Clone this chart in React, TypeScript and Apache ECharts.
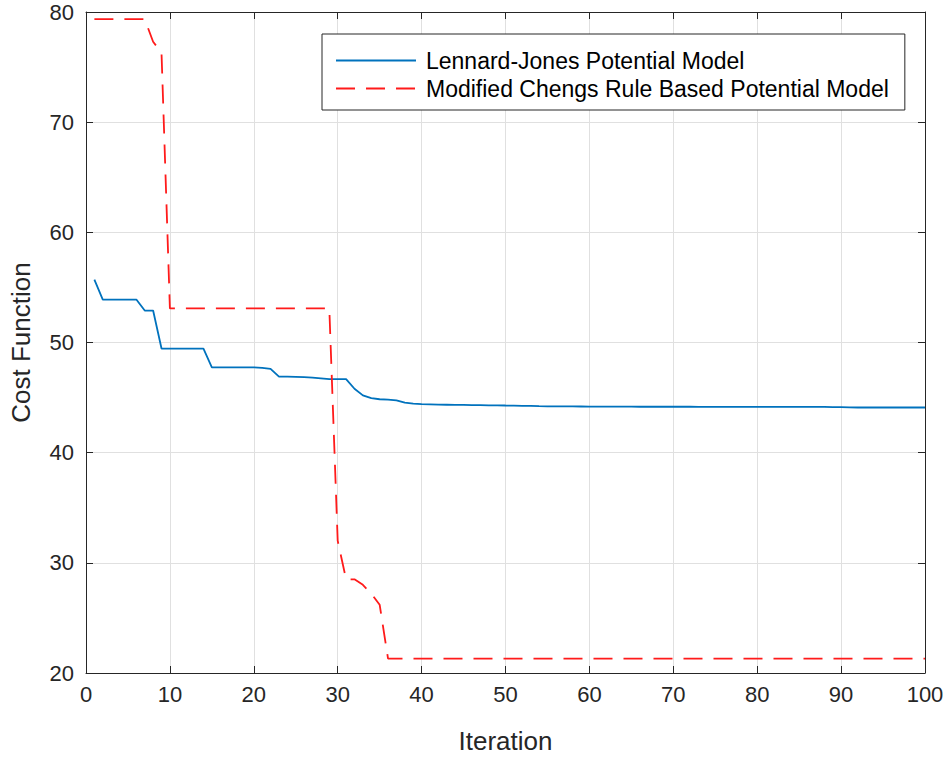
import React, { useEffect, useRef } from "react";
import * as echarts from "echarts";

const seriesNames = ["Lennard-Jones Potential Model", "Modified Chengs Rule Based Potential Model"];

// Cost per iteration (iterations 1..100)
const lennardJones = [
  55.7, 53.9, 53.9, 53.9, 53.9, 53.9, 52.9, 52.9, 49.45, 49.45,
  49.45, 49.45, 49.45, 49.45, 47.75, 47.75, 47.75, 47.75, 47.75, 47.75,
  47.7, 47.6, 46.9, 46.9, 46.88, 46.85, 46.82, 46.75, 46.68, 46.68,
  46.68, 45.8, 45.2, 44.95, 44.85, 44.82, 44.75, 44.55, 44.45, 44.4,
  44.38, 44.36, 44.35, 44.34, 44.33, 44.32, 44.31, 44.3, 44.3, 44.28,
  44.27, 44.25, 44.24, 44.22, 44.21, 44.2, 44.2, 44.2, 44.19, 44.18,
  44.18, 44.18, 44.18, 44.18, 44.18, 44.17, 44.17, 44.17, 44.17, 44.17,
  44.17, 44.17, 44.16, 44.16, 44.16, 44.16, 44.16, 44.16, 44.16, 44.16,
  44.16, 44.15, 44.15, 44.15, 44.15, 44.15, 44.15, 44.15, 44.14, 44.13,
  44.12, 44.1, 44.1, 44.1, 44.1, 44.1, 44.1, 44.1, 44.1, 44.1,
];

const chengs = [
  79.35, 79.35, 79.35, 79.35, 79.35, 79.35, 79.35, 77.3, 76.3, 53.1,
  53.1, 53.1, 53.1, 53.1, 53.1, 53.1, 53.1, 53.1, 53.1, 53.1,
  53.1, 53.1, 53.1, 53.1, 53.1, 53.1, 53.1, 53.1, 53.1, 32.0,
  28.5, 28.5, 28.0, 27.2, 26.2, 21.3, 21.3, 21.3, 21.3, 21.3,
  21.3, 21.3, 21.3, 21.3, 21.3, 21.3, 21.3, 21.3, 21.3, 21.3,
  21.3, 21.3, 21.3, 21.3, 21.3, 21.3, 21.3, 21.3, 21.3, 21.3,
  21.3, 21.3, 21.3, 21.3, 21.3, 21.3, 21.3, 21.3, 21.3, 21.3,
  21.3, 21.3, 21.3, 21.3, 21.3, 21.3, 21.3, 21.3, 21.3, 21.3,
  21.3, 21.3, 21.3, 21.3, 21.3, 21.3, 21.3, 21.3, 21.3, 21.3,
  21.3, 21.3, 21.3, 21.3, 21.3, 21.3, 21.3, 21.3, 21.3, 21.3,
];

const xRange = { min: 0, max: 100, interval: 10 };
const yRange = { min: 20, max: 80, interval: 10 };

const FONT = "'Liberation Sans', Arial, Helvetica, sans-serif";
const AXIS_COLOR = "#262626";

export default function App() {
  const ref = useRef<HTMLDivElement>(null);

  useEffect(() => {
    if (!ref.current) return;
    const chart = echarts.init(ref.current, null, { renderer: "svg" });

    const axisLine = { show: true, onZero: false, lineStyle: { color: AXIS_COLOR, width: 1 } };
    const axisTick = { show: true, inside: true, length: 7, lineStyle: { color: AXIS_COLOR, width: 1 } };
    const splitLine = { show: true, lineStyle: { color: "#e0e0e0", width: 1 } };

    chart.setOption({
      animation: false,
      backgroundColor: "#ffffff",
      grid: { left: 85, right: 22, top: 12, bottom: 88, containLabel: false },
      legend: {
        orient: "vertical",
        left: 322,
        top: 34,
        itemWidth: 80,
        itemHeight: 14,
        itemGap: 5,
        padding: [15, 16, 10, 13],
        borderColor: AXIS_COLOR,
        borderWidth: 1,
        backgroundColor: "#ffffff",
        itemStyle: { opacity: 0 },
        textStyle: { fontSize: 23, color: "#000000", fontFamily: FONT, padding: [0, 0, 0, 5] },
        data: seriesNames,
      },
      xAxis: [
        {
          type: "value",
          ...xRange,
          position: "bottom",
          name: "Iteration",
          nameLocation: "middle",
          nameGap: 55,
          nameTextStyle: { fontSize: 26, color: AXIS_COLOR, fontFamily: FONT },
          axisLine,
          axisTick,
          axisLabel: { fontSize: 22, color: AXIS_COLOR, fontFamily: FONT, margin: 10 },
          splitLine,
        },
        {
          type: "value",
          ...xRange,
          position: "top",
          axisLine,
          axisTick,
          axisLabel: { show: false },
          splitLine: { show: false },
        },
      ],
      yAxis: [
        {
          type: "value",
          ...yRange,
          position: "left",
          name: "Cost Function",
          nameLocation: "middle",
          nameGap: 52,
          nameTextStyle: { fontSize: 26, color: AXIS_COLOR, fontFamily: FONT },
          axisLine,
          axisTick,
          axisLabel: { fontSize: 22, color: AXIS_COLOR, fontFamily: FONT, margin: 12 },
          splitLine,
        },
        {
          type: "value",
          ...yRange,
          position: "right",
          axisLine,
          axisTick,
          axisLabel: { show: false },
          splitLine: { show: false },
        },
      ],
      series: [
        {
          name: seriesNames[0],
          type: "line",
          xAxisIndex: 0,
          yAxisIndex: 0,
          symbol: "none",
          showSymbol: false,
          data: lennardJones.map((v, i) => [i + 1, v]),
          lineStyle: { color: "#0072BD", width: 1.8 },
          itemStyle: { color: "#0072BD" },
        },
        {
          name: seriesNames[1],
          type: "line",
          xAxisIndex: 0,
          yAxisIndex: 0,
          symbol: "none",
          showSymbol: false,
          data: chengs.map((v, i) => [i + 1, v]),
          lineStyle: { color: "#ff1a1a", width: 1.8, type: [19, 11] },
          itemStyle: { color: "#ff1a1a" },
        },
      ],
    });

    return () => chart.dispose();
  }, []);

  return (
    <div
      ref={ref}
      style={{ position: "absolute", left: 0, top: 0, width: 947, height: 761 }}
    />
  );
}
